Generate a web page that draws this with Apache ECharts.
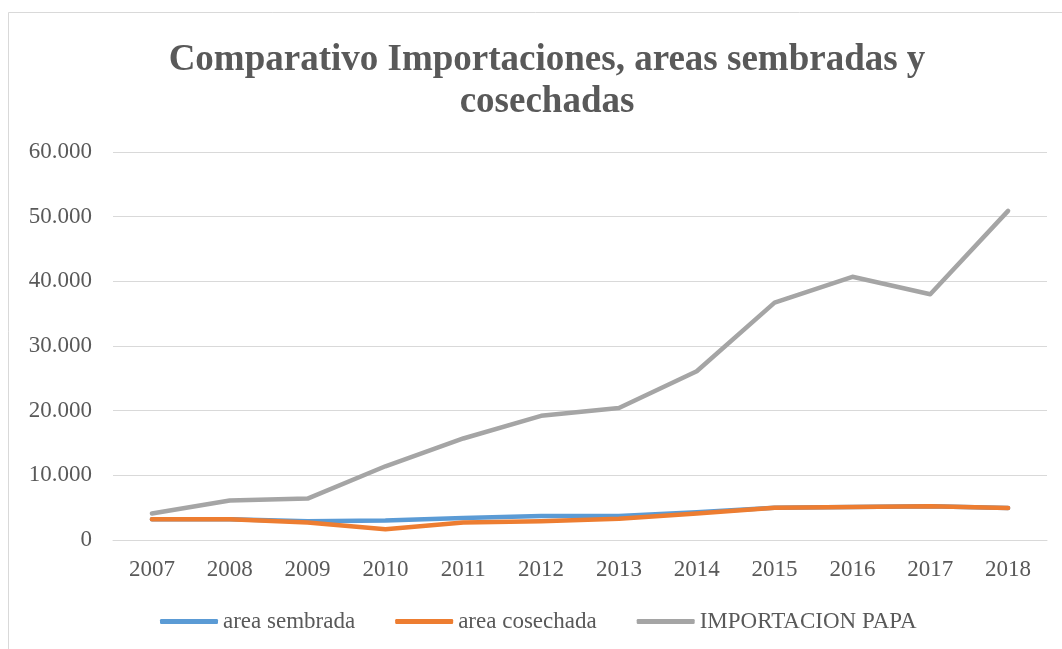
<!DOCTYPE html>
<html>
<head>
<meta charset="utf-8">
<script src="https://cdn.jsdelivr.net/npm/echarts@6/dist/echarts.min.js"></script>
<style>
  html, body { margin: 0; padding: 0; background: #fff; }
  #chart { width: 1062px; height: 649px; }
</style>
</head>
<body>
<div id="chart"></div>
<script>
// datos del grafico
const years = ["2007", "2008", "2009", "2010", "2011", "2012", "2013", "2014", "2015", "2016", "2017", "2018"];
const areaSembrada = [3200, 3200, 2900, 3000, 3400, 3700, 3700, 4300, 5000, 5100, 5200, 4950];
const areaCosechada = [3200, 3200, 2700, 1650, 2700, 2900, 3300, 4100, 5000, 5100, 5200, 4950];
const importacionPapa = [4100, 6100, 6400, 11400, 15700, 19200, 20400, 26100, 36700, 40700, 38000, 50900];
const seriesNames = ["area sembrada", "area cosechada", "IMPORTACION PAPA"];
const seriesColors = ["#5B9BD5", "#ED7D31", "#A5A5A5"];

const font = "'Liberation Serif', 'Times New Roman', serif";
const textColor = "#595959";

// separador de miles con punto
function fmt(v) {
  return String(v).replace(/\B(?=(\d{3})+(?!\d))/g, ".");
}

const myChart = echarts.init(document.getElementById("chart"));

const dataList = [areaSembrada, areaCosechada, importacionPapa];

const option = {
  backgroundColor: "#fff",
  animation: false,
  title: {
    text: "Comparativo Importaciones, areas sembradas y\ncosechadas",
    left: 542,
    top: 34,
    textAlign: "center",
    textStyle: {
      fontFamily: font,
      fontSize: 37,
      fontWeight: "bold",
      color: textColor,
      lineHeight: 42
    }
  },
  graphic: [
    {
      type: "rect",
      shape: { x: 8.5, y: 12.5, width: 1100, height: 700 },
      style: { fill: "none", stroke: "#d9d9d9", lineWidth: 1 },
      silent: true,
      z: -1
    }
  ],
  legend: {
    left: 155,
    top: 605,
    itemWidth: 58,
    itemHeight: 5,
    itemGap: 40,
    icon: "roundRect",
    textStyle: {
      fontFamily: font,
      fontSize: 23,
      color: textColor
    },
    data: seriesNames
  },
  grid: {
    left: 113,
    right: 15,
    top: 152,
    bottom: 109,
    containLabel: false
  },
  xAxis: {
    type: "category",
    data: years,
    boundaryGap: true,
    axisLine: { show: true, lineStyle: { color: "#d9d9d9", width: 1 } },
    axisTick: { show: false },
    axisLabel: {
      margin: 18,
      fontFamily: font,
      fontSize: 23,
      color: textColor
    }
  },
  yAxis: {
    type: "value",
    min: 0,
    max: 60000,
    interval: 10000,
    axisLine: { show: false },
    axisTick: { show: false },
    axisLabel: {
      margin: 21,
      fontFamily: font,
      fontSize: 23,
      color: textColor,
      formatter: fmt
    },
    splitLine: { show: true, lineStyle: { color: "#d9d9d9", width: 1 } }
  },
  series: seriesNames.map((name, i) => ({
    name: name,
    type: "line",
    data: dataList[i],
    color: seriesColors[i],
    symbol: "none",
    lineStyle: { width: 4.5, cap: "round", join: "round" },
    z: 2 + i
  }))
};

myChart.setOption(option);
</script>
</body>
</html>
